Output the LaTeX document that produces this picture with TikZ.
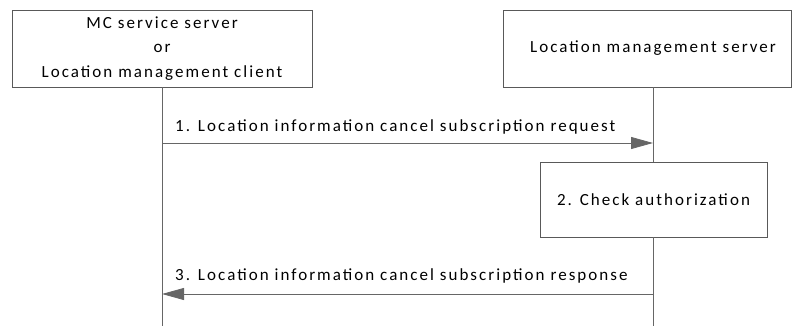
\documentclass[tikz,border=0pt]{standalone}
\usepackage{fontspec}
\setmainfont{Carlito}[LetterSpace=12]
\usetikzlibrary{arrows.meta, positioning}

\begin{document}
\begin{tikzpicture}[x=1pt, y=-1pt,
    font=\fontsize{17}{24.5}\selectfont,
    ent/.style={draw=black!65, line width=0.8pt, inner sep=0pt, minimum height=77pt, align=center},
    life/.style={draw=black!60, line width=0.8pt},
    msg/.style={draw=black!60, line width=0.8pt, -{Triangle[length=22pt,width=12pt]}},
    lbl/.style={anchor=west, inner sep=0pt}]
    \useasboundingbox (0,0) rectangle (792,326);

    % entities
    \node[ent, minimum width=300pt] (mcs) at (162,48.5) {MC service server\\or\\Location management client};
    \node[ent, minimum width=288pt] (lmsbox) at (647,48.5) {};
    \node (lms) at (653,48.5) {Location management server};
    \node[ent, minimum width=227pt, minimum height=75pt] (auth) at (653.5,199.5) {2. Check authorization};

    % lifelines
    \coordinate (mcsend) at (162,326);
    \coordinate (lmsend) at (653,326);
    \coordinate (lmstop) at (lms |- lmsbox.south);
    \draw[life] (mcs.south) -- (mcsend);
    \draw[life] (lmstop) -- (lms |- auth.north);
    \draw[life] (lms |- auth.south) -- (lmsend);

    % messages
    \coordinate (m1a) at (162,143);
    \coordinate (m1b) at (653,143);
    \coordinate (m3a) at (653,294);
    \coordinate (m3b) at (162,294);
    \draw[msg] (m1a) -- (m1b);
    \node[lbl] (t1) at (175,127) {1. Location information cancel subscription request};
    \draw[msg] (m3a) -- (m3b);
    \node[lbl] (t3) at (175,276) {3. Location information cancel subscription response};

\end{tikzpicture}
\end{document}
